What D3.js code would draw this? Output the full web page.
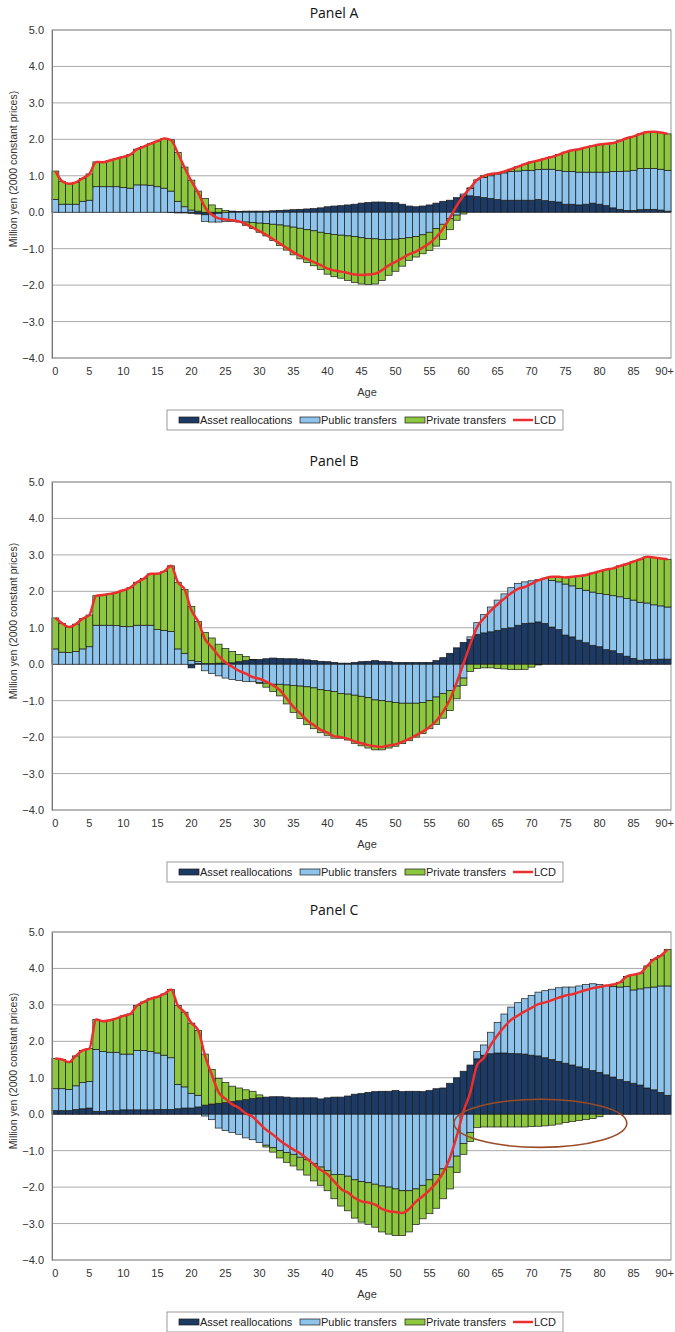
<!DOCTYPE html>
<html>
<head>
<meta charset="utf-8">
<script src="https://cdn.jsdelivr.net/npm/d3@7"></script>
<style>
  body { margin: 0; background: #fff; }
  text { font-family: "Liberation Sans", Arial, sans-serif; }
  .title { font-family: "Open Sans", Lato, sans-serif; font-size: 14px; font-weight: 400; fill: #111; }
</style>
</head>
<body>
<svg id="chart" width="675" height="1332"></svg>
<script>
// ---- data (million yen, 2000 constant prices), ages 0..90+ ----
var ages = d3.range(0, 91);
var xTickAges = [0, 5, 10, 15, 20, 25, 30, 35, 40, 45, 50, 55, 60, 65, 70, 75, 80, 85, 90];
var xTickLabels = ["0", "5", "10", "15", "20", "25", "30", "35", "40", "45", "50", "55", "60", "65", "70", "75", "80", "85", "90+"];
var yTicks = [-4, -3, -2, -1, 0, 1, 2, 3, 4, 5];
var panelNames = ["Panel A", "Panel B", "Panel C"];
var seriesNames = ["Asset reallocations", "Public transfers", "Private transfers", "LCD"];

var assetA = [0,0,0,0,0,0,0,0,0,0,
  0,0,0,0,0,0,0,-0.01,-0.02,-0.02,
  -0.03,-0.05,-0.07,-0.05,-0.03,0,0.01,0.02,0.03,0.03,
  0.03,0.03,0.04,0.05,0.06,0.07,0.08,0.09,0.1,0.12,
  0.15,0.17,0.18,0.2,0.22,0.25,0.27,0.28,0.28,0.27,
  0.26,0.22,0.17,0.15,0.17,0.2,0.25,0.3,0.33,0.4,
  0.45,0.45,0.43,0.4,0.38,0.35,0.33,0.33,0.33,0.33,
  0.33,0.35,0.32,0.3,0.28,0.22,0.22,0.2,0.22,0.25,
  0.22,0.18,0.12,0.08,0.05,0.05,0.07,0.08,0.08,0.06,
  0.03];
var publicA = [0.35,0.22,0.22,0.22,0.3,0.33,0.7,0.7,0.7,0.7,
  0.68,0.66,0.75,0.75,0.74,0.7,0.66,0.58,0.3,0.15,
  0.06,0.03,-0.18,-0.22,-0.24,-0.25,-0.25,-0.26,-0.27,-0.28,
  -0.3,-0.31,-0.33,-0.35,-0.38,-0.41,-0.44,-0.48,-0.51,-0.55,
  -0.58,-0.61,-0.63,-0.65,-0.67,-0.7,-0.72,-0.73,-0.75,-0.75,
  -0.74,-0.72,-0.7,-0.67,-0.62,-0.55,-0.45,-0.33,-0.18,-0.08,
  0.05,0.2,0.46,0.55,0.62,0.7,0.75,0.79,0.8,0.82,
  0.82,0.82,0.86,0.88,0.87,0.9,0.9,0.9,0.88,0.85,
  0.88,0.92,1.0,1.04,1.08,1.1,1.13,1.12,1.12,1.12,
  1.12];
var privateA = [0.78,0.63,0.56,0.6,0.63,0.72,0.68,0.67,0.72,0.77,
  0.84,0.92,0.98,1.05,1.14,1.25,1.36,1.41,1.34,1.09,
  0.82,0.55,0.38,0.2,0.1,0.05,0.02,-0.01,-0.09,-0.17,
  -0.25,-0.34,-0.45,-0.56,-0.66,-0.76,-0.84,-0.9,-0.96,-1.02,
  -1.12,-1.16,-1.18,-1.22,-1.26,-1.27,-1.26,-1.24,-1.12,-0.98,
  -0.88,-0.76,-0.62,-0.56,-0.52,-0.5,-0.48,-0.42,-0.3,-0.14,
  -0.05,0.02,0,0.05,0.05,0.02,0.04,0.06,0.12,0.17,
  0.23,0.25,0.29,0.34,0.43,0.53,0.58,0.63,0.68,0.72,
  0.76,0.78,0.78,0.84,0.9,0.93,0.95,1.0,1.01,1.01,
  1.0];
var lcdA = [1.13,0.85,0.78,0.82,0.93,1.05,1.38,1.37,1.42,1.47,
  1.52,1.58,1.73,1.8,1.88,1.95,2.02,1.98,1.62,1.22,
  0.85,0.53,0.13,-0.07,-0.17,-0.2,-0.22,-0.25,-0.33,-0.42,
  -0.52,-0.62,-0.74,-0.86,-0.98,-1.1,-1.2,-1.29,-1.37,-1.45,
  -1.55,-1.6,-1.63,-1.67,-1.71,-1.72,-1.71,-1.69,-1.59,-1.46,
  -1.36,-1.26,-1.15,-1.08,-0.97,-0.85,-0.68,-0.45,-0.15,0.18,
  0.45,0.67,0.89,1.0,1.05,1.07,1.12,1.18,1.25,1.32,
  1.38,1.42,1.47,1.52,1.58,1.65,1.7,1.73,1.78,1.82,
  1.86,1.88,1.9,1.96,2.03,2.08,2.15,2.2,2.21,2.19,
  2.15];

var assetB = [0,0,0,0,0,0,0,0,0,0,
  0,0,0,0,0,0,0,0,0,0,
  -0.1,0.02,0.02,0.02,0.03,0.03,0.04,0.07,0.1,0.12,
  0.13,0.15,0.17,0.16,0.15,0.15,0.14,0.12,0.1,0.08,
  0.07,0.05,0.03,0.03,0.05,0.07,0.08,0.1,0.08,0.07,
  0.05,0.05,0.05,0.05,0.05,0.05,0.1,0.18,0.3,0.45,
  0.6,0.68,0.82,0.86,0.89,0.93,0.98,1.0,1.07,1.12,
  1.13,1.16,1.12,1.02,0.95,0.8,0.75,0.66,0.59,0.52,
  0.48,0.4,0.37,0.29,0.22,0.16,0.11,0.13,0.13,0.14,
  0.14];
var publicB = [0.42,0.33,0.32,0.35,0.42,0.48,1.07,1.07,1.07,1.06,
  1.04,1.03,1.07,1.07,1.07,0.95,0.93,0.9,0.42,0.3,
  0.1,0.05,-0.18,-0.25,-0.32,-0.38,-0.42,-0.45,-0.47,-0.48,
  -0.5,-0.52,-0.55,-0.55,-0.57,-0.58,-0.6,-0.62,-0.65,-0.7,
  -0.72,-0.75,-0.8,-0.82,-0.85,-0.88,-0.92,-0.98,-1.0,-1.02,
  -1.05,-1.07,-1.07,-1.07,-1.05,-1.0,-0.9,-0.8,-0.72,-0.6,
  -0.38,0.07,0.32,0.5,0.68,0.83,0.95,1.1,1.15,1.14,
  1.16,1.16,1.24,1.28,1.31,1.4,1.4,1.42,1.44,1.46,
  1.46,1.51,1.51,1.56,1.58,1.6,1.59,1.55,1.5,1.46,
  1.43];
var privateB = [0.85,0.79,0.7,0.75,0.83,0.87,0.81,0.83,0.86,0.91,
  0.99,1.07,1.18,1.28,1.41,1.53,1.62,1.8,1.83,1.75,
  1.48,1.1,0.85,0.7,0.52,0.4,0.31,0.2,0.11,0.01,
  -0.03,-0.11,-0.2,-0.32,-0.52,-0.74,-0.89,-1.04,-1.12,-1.18,
  -1.23,-1.28,-1.23,-1.26,-1.32,-1.36,-1.38,-1.37,-1.35,-1.28,
  -1.2,-1.11,-1.03,-0.93,-0.85,-0.77,-0.75,-0.68,-0.55,-0.35,
  -0.2,-0.2,-0.12,-0.1,-0.1,-0.12,-0.13,-0.15,-0.15,-0.14,
  -0.08,-0.02,0,0.1,0.14,0.18,0.25,0.34,0.42,0.52,
  0.61,0.69,0.75,0.85,0.95,1.06,1.18,1.27,1.3,1.3,
  1.31];
var lcdB = [1.27,1.12,1.02,1.1,1.25,1.35,1.88,1.9,1.93,1.97,
  2.03,2.1,2.25,2.35,2.48,2.48,2.55,2.7,2.25,2.05,
  1.48,1.17,0.69,0.47,0.23,0.05,-0.07,-0.18,-0.26,-0.35,
  -0.4,-0.48,-0.58,-0.71,-0.94,-1.17,-1.35,-1.54,-1.67,-1.8,
  -1.88,-1.98,-2.0,-2.05,-2.12,-2.17,-2.22,-2.25,-2.27,-2.23,
  -2.2,-2.13,-2.05,-1.95,-1.85,-1.72,-1.55,-1.3,-0.97,-0.5,
  0.02,0.55,1.02,1.26,1.47,1.64,1.8,1.95,2.07,2.12,
  2.21,2.3,2.36,2.4,2.4,2.38,2.4,2.42,2.45,2.5,
  2.55,2.6,2.63,2.7,2.75,2.82,2.88,2.95,2.93,2.9,
  2.88];

var assetC = [0.1,0.1,0.1,0.13,0.15,0.17,0.08,0.08,0.1,0.1,
  0.12,0.12,0.12,0.12,0.12,0.13,0.13,0.13,0.15,0.17,
  0.17,0.2,0.25,0.28,0.3,0.32,0.35,0.37,0.4,0.43,
  0.45,0.47,0.48,0.48,0.47,0.45,0.45,0.45,0.45,0.42,
  0.45,0.47,0.47,0.5,0.55,0.57,0.6,0.62,0.63,0.63,
  0.65,0.62,0.63,0.63,0.62,0.65,0.7,0.72,0.85,1.0,
  1.18,1.35,1.52,1.62,1.66,1.68,1.68,1.67,1.66,1.65,
  1.62,1.6,1.55,1.5,1.45,1.4,1.35,1.3,1.25,1.2,
  1.15,1.08,1.02,0.95,0.9,0.85,0.8,0.72,0.67,0.6,
  0.52];
var publicC = [0.6,0.6,0.58,0.65,0.72,0.73,1.7,1.64,1.6,1.6,
  1.53,1.53,1.63,1.63,1.6,1.55,1.49,1.42,0.67,0.58,
  0.4,0.32,-0.05,-0.15,-0.38,-0.45,-0.5,-0.55,-0.65,-0.7,
  -0.78,-0.85,-0.92,-1.0,-1.05,-1.1,-1.18,-1.25,-1.35,-1.45,
  -1.55,-1.65,-1.65,-1.7,-1.8,-1.85,-1.88,-1.92,-1.97,-2.0,
  -2.05,-2.1,-2.1,-2.05,-1.95,-1.8,-1.65,-1.5,-1.45,-1.15,
  -0.8,-0.5,0.2,0.28,0.59,0.84,1.07,1.27,1.4,1.52,
  1.64,1.75,1.84,1.93,2.02,2.09,2.14,2.22,2.31,2.38,
  2.41,2.45,2.48,2.54,2.6,2.56,2.64,2.75,2.82,2.92,
  3.0];
var privateC = [0.83,0.8,0.75,0.82,0.88,0.9,0.82,0.83,0.88,0.93,
  1.05,1.1,1.23,1.33,1.45,1.54,1.68,1.87,2.16,2.05,
  1.93,1.78,1.4,0.95,0.68,0.55,0.42,0.35,0.27,0.2,
  0.08,-0.05,-0.12,-0.2,-0.27,-0.32,-0.35,-0.42,-0.48,-0.5,
  -0.55,-0.67,-0.87,-0.95,-1.05,-1.11,-1.14,-1.18,-1.26,-1.29,
  -1.28,-1.23,-1.13,-0.98,-0.92,-0.93,-0.93,-0.82,-0.6,-0.45,
  -0.3,-0.25,-0.37,-0.35,-0.35,-0.35,-0.35,-0.35,-0.35,-0.35,
  -0.34,-0.33,-0.32,-0.3,-0.27,-0.23,-0.2,-0.17,-0.15,-0.12,
  -0.07,0,0.06,0.13,0.28,0.42,0.43,0.6,0.76,0.83,
  1.0];
var lcdC = [1.53,1.5,1.43,1.6,1.75,1.8,2.6,2.55,2.58,2.63,
  2.7,2.75,2.98,3.08,3.17,3.22,3.3,3.42,2.98,2.8,
  2.5,2.3,1.6,1.08,0.6,0.42,0.27,0.17,0.02,-0.07,
  -0.25,-0.43,-0.56,-0.72,-0.85,-0.97,-1.08,-1.22,-1.38,-1.53,
  -1.65,-1.85,-2.05,-2.15,-2.3,-2.39,-2.42,-2.48,-2.6,-2.66,
  -2.68,-2.71,-2.6,-2.4,-2.25,-2.08,-1.88,-1.6,-1.2,-0.6,
  0.08,0.6,1.35,1.55,1.9,2.17,2.4,2.59,2.71,2.82,
  2.92,3.02,3.07,3.13,3.2,3.26,3.29,3.35,3.41,3.46,
  3.49,3.53,3.56,3.62,3.78,3.83,3.87,4.07,4.25,4.35,
  4.52];

// hand-drawn ellipse on panel C (age / value units)
var noteC = { age: 71.3, value: -0.25, rAge: 12.7, rValue: 0.66 };

// ---- layout ----
var svg = d3.select("#chart");
var plotLeft = 52, plotRight = 671, plotH = 328;
var panelTop = [30, 482, 932];
var titleY = [13, 461, 910];
var colors = { asset: "#1c3a64", pub: "#8ec4ec", priv: "#8dc63f", lcd: "#ec2e2e" };

var x = d3.scaleBand().domain(ages).range([plotLeft, plotRight]).padding(0);

var panels = [
  { asset: assetA, pub: publicA, priv: privateA, lcd: lcdA },
  { asset: assetB, pub: publicB, priv: privateB, lcd: lcdB },
  { asset: assetC, pub: publicC, priv: privateC, lcd: lcdC }
];

panels.forEach(function(p, i) {
  var top = panelTop[i];
  var y = d3.scaleLinear().domain([-4, 5]).range([top + plotH, top]);
  var g = svg.append("g");

  g.append("text").attr("class", "title")
    .attr("x", 334).attr("y", titleY[i]).attr("dy", "0.35em")
    .attr("text-anchor", "middle").text(panelNames[i]);

  // gridlines + frame
  g.selectAll("line.grid").data(yTicks).enter().append("line")
    .attr("class", "grid")
    .attr("x1", plotLeft).attr("x2", plotRight)
    .attr("y1", function(d) { return y(d); }).attr("y2", function(d) { return y(d); })
    .attr("stroke", "#aaa").attr("stroke-width", 1);
  g.append("rect")
    .attr("x", plotLeft).attr("y", top)
    .attr("width", plotRight - plotLeft).attr("height", plotH)
    .attr("fill", "none").attr("stroke", "#999");

  // stacked bars (positives up, negatives down)
  var rows = ages.map(function(a, k) {
    return { age: a, asset: p.asset[k], pub: p.pub[k], priv: p.priv[k] };
  });
  var stacked = d3.stack().keys(["asset", "pub", "priv"])
    .offset(d3.stackOffsetDiverging)(rows);

  g.selectAll("g.layer").data(stacked).enter().append("g")
    .attr("class", "layer")
    .attr("fill", function(d) { return colors[d.key]; })
    .selectAll("rect").data(function(d) { return d; }).enter().append("rect")
    .attr("x", function(d) { return x(d.data.age); })
    .attr("width", x.bandwidth())
    .attr("y", function(d) { return y(Math.max(d[0], d[1])); })
    .attr("height", function(d) { return Math.abs(y(d[0]) - y(d[1])); })
    .attr("stroke", "#1a1a1a").attr("stroke-width", 0.7);

  // LCD line
  var line = d3.line()
    .x(function(d, k) { return x(ages[k]) + x.bandwidth() / 2; })
    .y(function(d) { return y(d); })
    .curve(d3.curveMonotoneX);
  g.append("path").datum(p.lcd)
    .attr("d", line).attr("fill", "none")
    .attr("stroke", colors.lcd).attr("stroke-width", 2.5);

  // axes
  var yAxis = g.append("g").attr("transform", "translate(" + plotLeft + ",0)")
    .call(d3.axisLeft(y).tickValues(yTicks).tickFormat(d3.format(".1f")).tickSize(0).tickPadding(8));
  yAxis.select(".domain").attr("stroke", "#777");
  yAxis.selectAll("text").attr("font-size", 11).attr("fill", "#333");

  var xAxis = g.append("g").attr("transform", "translate(0," + (top + plotH) + ")")
    .call(d3.axisBottom(x).tickValues(xTickAges)
      .tickFormat(function(d) { return xTickLabels[xTickAges.indexOf(d)]; })
      .tickSize(0).tickPadding(9));
  xAxis.select(".domain").remove();
  xAxis.selectAll("text").attr("font-size", 11).attr("fill", "#333")
    .attr("dx", function(d) { return d === 90 ? -3 : 0; });

  g.append("text").attr("x", 367).attr("y", top + plotH + 34).attr("dy", "0.35em")
    .attr("text-anchor", "middle").attr("font-size", 11).attr("fill", "#333").text("Age");

  g.append("text")
    .attr("transform", "translate(13," + (top + 139) + ") rotate(-90)")
    .attr("dy", "0.35em").attr("text-anchor", "middle")
    .attr("font-size", 10.5).attr("fill", "#333")
    .text("Million yen (2000 constant prices)");

  // legend
  var ly = top + plotH + 52;
  var lg = g.append("g");
  lg.append("rect").attr("x", 167).attr("y", ly).attr("width", 396).attr("height", 20)
    .attr("fill", "#fff").attr("stroke", "#999");
  var legendX = [179, 300, 405, 513];
  var legendKeys = ["asset", "pub", "priv", "lcd"];
  legendKeys.forEach(function(k, j) {
    if (k === "lcd") {
      lg.append("line").attr("x1", legendX[j]).attr("x2", legendX[j] + 20)
        .attr("y1", ly + 10).attr("y2", ly + 10)
        .attr("stroke", colors.lcd).attr("stroke-width", 2.5);
    } else {
      lg.append("rect").attr("x", legendX[j]).attr("y", ly + 7)
        .attr("width", 20).attr("height", 6)
        .attr("fill", colors[k]).attr("stroke", "#1a1a1a").attr("stroke-width", 0.7);
    }
    lg.append("text").attr("x", legendX[j] + 21).attr("y", ly + 10).attr("dy", "0.35em")
      .attr("font-size", 11).attr("fill", "#222").text(seriesNames[j]);
  });

  if (i === 2) {
    var cx = x(Math.floor(noteC.age)) + x.bandwidth() * (noteC.age % 1 + 0.5);
    g.append("ellipse")
      .attr("cx", cx).attr("cy", y(noteC.value))
      .attr("rx", x.step() * noteC.rAge)
      .attr("ry", y(0) - y(noteC.rValue))
      .attr("fill", "none").attr("stroke", "#9a4b28").attr("stroke-width", 1.6);
  }
});
</script>
</body>
</html>
